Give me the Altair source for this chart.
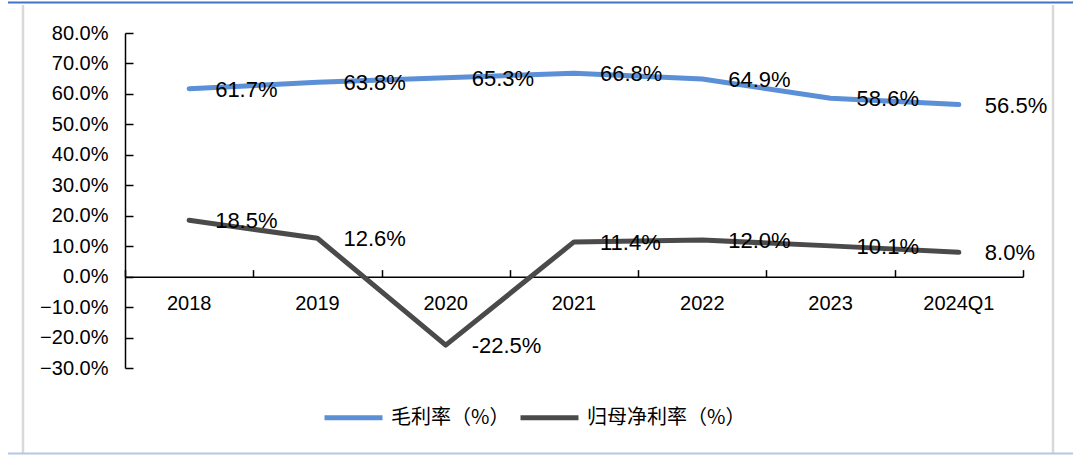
import altair as alt
import pandas as pd

# ---- data ----
years = ["2018", "2019", "2020", "2021", "2022", "2023", "2024Q1"]
gross_margin = [61.7, 63.8, 65.3, 66.8, 64.9, 58.6, 56.5]
net_margin = [18.5, 12.6, -22.5, 11.4, 12.0, 10.1, 8.0]
series_names = ["毛利率（%）", "归母净利率（%）"]
series_colors = ["#5B8FD6", "#4A4A4A"]
y_tick_values = [-0.3, -0.2, -0.1, 0.0, 0.1, 0.2, 0.3, 0.4, 0.5, 0.6, 0.7, 0.8]

rows = []
for name, vals in zip(series_names, [gross_margin, net_margin]):
    for yr, v in zip(years, vals):
        rows.append({"year": yr, "series": name, "value": v / 100.0, "label": f"{v:.1f}%"})
df = pd.DataFrame(rows)

# ---- layout ----
W, H = 898, 335
Y_MIN, Y_MAX = -0.3, 0.8
zero_from_bottom = H * (0 - Y_MIN) / (Y_MAX - Y_MIN)
zero_from_top = H - zero_from_bottom

FONT = "Liberation Sans"
CJK = "Noto Sans CJK SC"

xscale = alt.Scale(type="band", domain=years, paddingInner=0, paddingOuter=0)
yscale = alt.Scale(domain=[Y_MIN, Y_MAX], nice=False, zero=False)

lines = alt.Chart(df).mark_line(strokeWidth=5, strokeCap="round", strokeJoin="round").encode(
    x=alt.X("year:N", scale=xscale, sort=years,
            axis=alt.Axis(orient="bottom", offset=-zero_from_bottom, ticks=False,
                          labelPadding=17, labelAngle=0, labelFontSize=20,
                          labelColor="black", labelFont=FONT, domainColor="black",
                          domainWidth=1.5, grid=False, title=None)),
    y=alt.Y("value:Q", scale=yscale,
            axis=alt.Axis(orient="left", values=y_tick_values, format=".1%", ticks=False,
                          labelPadding=17, labelFontSize=20, labelColor="black",
                          labelFont=FONT, domainColor="black", domainWidth=1.5,
                          grid=False, title=None)),
    color=alt.Color("series:N", scale=alt.Scale(domain=series_names, range=series_colors),
                    legend=alt.Legend(orient="none", legendX=197, legendY=353,
                                      direction="horizontal", title=None,
                                      symbolType="stroke", symbolSize=3364,
                                      symbolStrokeWidth=5, labelFontSize=20,
                                      labelFont=CJK, labelColor="black",
                                      labelOffset=6, columnPadding=0, padding=0)),
)

labels = alt.Chart(df).mark_text(align="left", baseline="middle", dx=26, dy=1,
                                 fontSize=22, font=FONT, color="black").encode(
    x=alt.X("year:N", scale=xscale, sort=years,
            axis=alt.Axis(orient="top", offset=-zero_from_top, labels=False, domain=False,
                          ticks=True, tickSize=7, tickBand="extent", tickColor="black",
                          tickWidth=1.5, grid=False, title=None)),
    y=alt.Y("value:Q", scale=yscale,
            axis=alt.Axis(orient="right", offset=-W, labels=False, domain=False,
                          ticks=True, tickSize=8, values=y_tick_values, tickColor="black",
                          tickWidth=1.5, grid=False, title=None)),
    text="label:N",
)

# ---- decorative frame ----
frame_df = pd.DataFrame({"k": [0]})


def hline(y, x1, x2, color, w):
    return alt.Chart(frame_df).mark_rule(color=color, strokeWidth=w).encode(
        x=alt.value(x1), x2=alt.value(x2), y=alt.value(y))


def vline(x, y1, y2, color, w):
    return alt.Chart(frame_df).mark_rule(color=color, strokeWidth=w).encode(
        x=alt.value(x), y=alt.value(y1), y2=alt.value(y2))


frame = [
    hline(-30.5, -117, 948, "#4472C4", 2),
    vline(-102, -28, 420, "#D9D9D9", 2.5),
    vline(928, -28, 420, "#D9D9D9", 2.5),
    hline(420.5, -117, 948, "#B4C7E7", 2),
]

chart = alt.layer(*frame, lines, labels).resolve_axis(
    x="independent", y="independent"
).properties(
    width=W, height=H,
    autosize=alt.AutoSizeParams(type="none"),
    padding={"left": 125, "top": 33, "right": 50, "bottom": 87},
    background="white",
).configure_view(stroke=None)

chart.save("out.html", embed_options={"renderer": "svg", "actions": False})
